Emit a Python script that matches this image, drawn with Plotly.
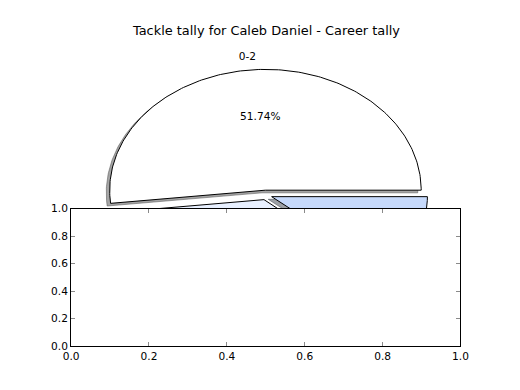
import numpy as np
import plotly.graph_objects as go

# ---- data -------------------------------------------------------------
title_text = "Tackle tally for Caleb Daniel - Career tally"
slice_labels = ["0-2", "3-5", "6+"]
slice_values = [51.74, 37.15, 11.11]
slice_colors = ["#ffffff", "#e8f0ff", "#c6d9fb"]
slice_explode = [0.04, 0.04, 0.04]
tick_vals = [0.0, 0.2, 0.4, 0.6, 0.8, 1.0]
tick_text = ["0.0", "0.2", "0.4", "0.6", "0.8", "1.0"]

# ---- geometry (target picture is 520x390; page body has an 8px margin) --
PAGE_W, PAGE_H, BODY_M = 520, 390, 8
FIG_W, FIG_H = PAGE_W - 2 * BODY_M, PAGE_H - 2 * BODY_M


def dom_x(px0, px1):
    return [(px0 - BODY_M) / FIG_W, (px1 - BODY_M) / FIG_W]


def dom_y(py_top, py_bot):
    return [(FIG_H - (py_bot - BODY_M)) / FIG_H,
            (FIG_H - (py_top - BODY_M)) / FIG_H]


FONT = "DejaVu Sans"
SMALL = 10.6
SHADOW = -0.022

fig = go.Figure()

vals = np.asarray(slice_values, dtype=float)
fracs = vals / vals.sum()
bounds = np.concatenate([[0.0], np.cumsum(fracs) * 360.0])


def hex_rgb(h):
    h = h.lstrip("#")
    return tuple(int(h[i:i + 2], 16) for i in (0, 2, 4))


wedges = []
for i, lab in enumerate(slice_labels):
    t1, t2 = bounds[i], bounds[i + 1]
    mid = np.deg2rad((t1 + t2) / 2)
    ox = slice_explode[i] * np.cos(mid)
    oy = slice_explode[i] * np.sin(mid)
    th = np.deg2rad(np.linspace(t1, t2, 200))
    xs = np.concatenate([[ox], ox + np.cos(th), [ox]])
    ys = np.concatenate([[oy], oy + np.sin(th), [oy]])
    wedges.append((xs, ys, mid, ox, oy))

# shadows below every wedge
for i, (xs, ys, mid, ox, oy) in enumerate(wedges):
    r, g, b = hex_rgb(slice_colors[i])
    sc = "rgba(%d,%d,%d,0.5)" % (0.3 * r, 0.3 * g, 0.3 * b)
    fig.add_trace(go.Scatter(
        x=xs + SHADOW, y=ys + SHADOW, mode="lines", fill="toself",
        fillcolor=sc, line=dict(color=sc, width=1),
        xaxis="x", yaxis="y", hoverinfo="skip", showlegend=False))

# wedges
for i, (xs, ys, mid, ox, oy) in enumerate(wedges):
    fig.add_trace(go.Scatter(
        x=xs, y=ys, mode="lines", fill="toself",
        fillcolor=slice_colors[i], line=dict(color="black", width=1),
        xaxis="x", yaxis="y", hoverinfo="skip", showlegend=False))

# labels and percentages
for i, (xs, ys, mid, ox, oy) in enumerate(wedges):
    lx = ox + 1.1 * np.cos(mid)
    ly = oy + 1.1 * np.sin(mid)
    fig.add_trace(go.Scatter(
        x=[lx], y=[ly], mode="text", text=[slice_labels[i]],
        textposition="middle left" if lx < 0 else "middle right",
        textfont=dict(family=FONT, size=SMALL, color="black"),
        xaxis="x", yaxis="y", hoverinfo="skip", showlegend=False))
    px = ox + 0.6 * np.cos(mid)
    py = oy + 0.6 * np.sin(mid)
    fig.add_trace(go.Scatter(
        x=[px], y=[py], mode="text", text=["%.2f%%" % (fracs[i] * 100)],
        textposition="middle center",
        textfont=dict(family=FONT, size=SMALL, color="black"),
        xaxis="x", yaxis="y", hoverinfo="skip", showlegend=False))

# empty lower axes
fig.add_trace(go.Scatter(x=[], y=[], xaxis="x2", yaxis="y2",
                         showlegend=False, hoverinfo="skip"))

axis_common = dict(
    range=[0, 1], tickvals=tick_vals, ticktext=tick_text,
    ticks="inside", ticklen=4, tickcolor="#8a8a8a", tickwidth=1,
    mirror="allticks", showline=True, linecolor="black", linewidth=1,
    showgrid=False, zeroline=False, fixedrange=True,
    tickfont=dict(family=FONT, size=SMALL, color="black"),
)

fig.update_layout(
    width=FIG_W, height=FIG_H,
    margin=dict(l=0, r=0, t=0, b=0),
    paper_bgcolor="white", plot_bgcolor="white",
    font=dict(family=FONT, color="black"),
    showlegend=False,
    title=dict(text=title_text, x=(266.5 - BODY_M) / FIG_W, xanchor="center",
               y=1 - (30 - BODY_M) / FIG_H, yanchor="middle",
               font=dict(family=FONT, size=12.9, color="black")),
    xaxis=dict(domain=dom_x(65, 468), range=[-1.25, 1.25], visible=False,
               fixedrange=True),
    yaxis=dict(domain=dom_y(39, 351), range=[-1.25, 1.25], visible=False,
               fixedrange=True),
    xaxis2=dict(domain=dom_x(65, 468), anchor="y2", **axis_common),
    yaxis2=dict(domain=dom_y(209.2, 351), anchor="x2", **axis_common),
)

fig.write_html("out.html", config={"displayModeBar": False})
